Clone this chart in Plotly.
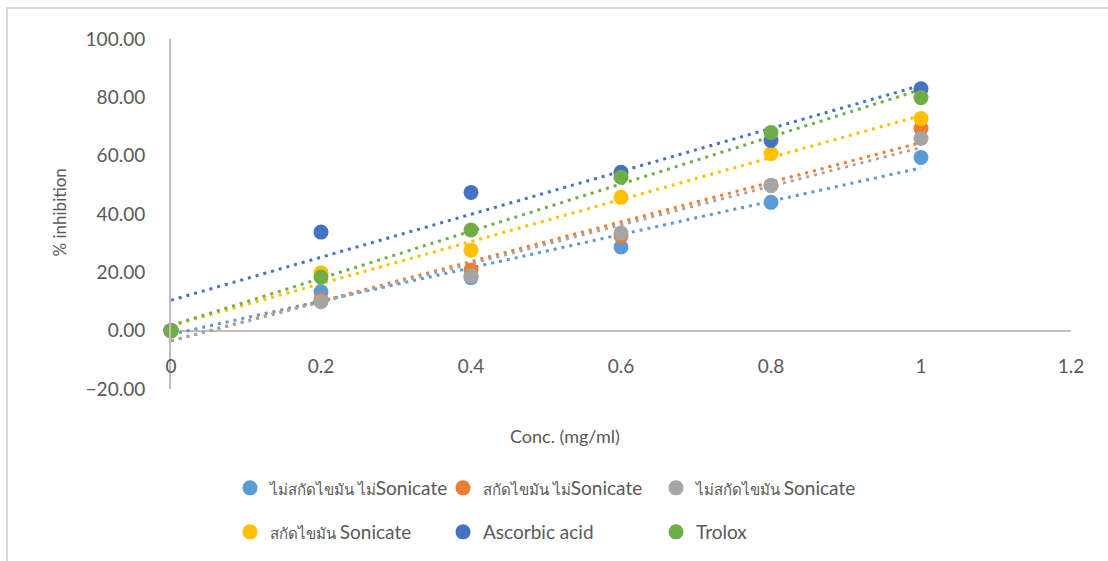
import numpy as np
import plotly.graph_objects as go

conc = [0, 0.2, 0.4, 0.6, 0.8, 1.0]
series_names = ["ไม่สกัดไขมัน ไม่Sonicate", "สกัดไขมัน ไม่Sonicate", "ไม่สกัดไขมัน Sonicate",
                "สกัดไขมัน Sonicate", "Ascorbic acid", "Trolox"]
s1 = [0, 13.3, 18.2, 28.7, 44.0, 59.4]
s2 = [0, 10.6, 20.8, 32.5, 49.8, 69.3]
s3 = [0, 9.9, 18.8, 33.5, 49.8, 65.9]
s4 = [0, 19.8, 27.6, 45.7, 60.7, 72.7]
s5 = [0, 33.8, 47.4, 54.3, 65.2, 82.9]
s6 = [0, 18.4, 34.5, 52.6, 67.9, 79.9]
values = [s1, s2, s3, s4, s5, s6]
colors = ["#5B9BD5", "#ED7D31", "#A5A5A5", "#FFC000", "#4472C4", "#70AD47"]
x_ticks = [0, 0.2, 0.4, 0.6, 0.8, 1, 1.2]
x_tick_text = ["0", "0.2", "0.4", "0.6", "0.8", "1", "1.2"]
y_ticks = [-20, 0, 20, 40, 60, 80, 100]

W, H = 1108, 561
ml, mr, mt, mb = 171, 37, 39, 171
pw, ph = W - ml - mr, H - mt - mb

def px_x(p):
    return (p - ml) / pw

def px_y(p):
    return (H - mb - p) / ph

def legend_label(name):
    # Thai part rendered smaller, Latin part larger (as in the original)
    thai = "".join(ch for ch in name if "\u0e00" <= ch <= "\u0e7f" or ch == " ")
    if not any("\u0e00" <= ch <= "\u0e7f" for ch in name):
        return name
    i = 0
    while i < len(name) and ("\u0e00" <= name[i] <= "\u0e7f" or name[i] == " "):
        i += 1
    return '<span style="font-size:15px">' + name[:i] + "</span>" + name[i:]

fig = go.Figure()
TXT = "#595959"
FONT = "Lato, 'Noto Sans', sans-serif"

# trendlines
for name, ys, c in zip(series_names, values, colors):
    m, b = np.polyfit(conc, ys, 1)
    xs = np.array([min(conc), max(conc)])
    fig.add_trace(go.Scatter(x=xs, y=m * xs + b, mode="lines", showlegend=False,
                             line=dict(color=c, width=3, dash="3px,5px"),
                             hoverinfo="skip", cliponaxis=False))

# markers
for i, (name, ys, c) in enumerate(zip(series_names, values, colors)):
    fig.add_trace(go.Scatter(x=conc, y=ys, mode="markers", name=legend_label(name),
                             marker=dict(color=c, size=15, line=dict(width=0)),
                             cliponaxis=False,
                             legend="legend" if i < 3 else "legend2"))

leg_common = dict(orientation="h", xanchor="left", yanchor="middle",
                  entrywidth=168, entrywidthmode="pixels",
                  font=dict(family=FONT, size=19, color=TXT), bgcolor="rgba(0,0,0,0)",
                  itemwidth=30, tracegroupgap=0)

fig.update_layout(
    width=W, height=H,
    margin=dict(l=ml, r=mr, t=mt, b=mb),
    paper_bgcolor="white", plot_bgcolor="white",
    font=dict(family=FONT, color=TXT),
    xaxis=dict(range=[0, 1.2], tickvals=x_ticks, ticktext=x_tick_text,
               showgrid=False, zeroline=False, showline=False,
               anchor="free", position=1/6,
               tickfont=dict(family=FONT, size=19, color=TXT),
               ticks="", ticklabelstandoff=22),
    yaxis=dict(range=[-20, 100], tickvals=y_ticks, tickformat=".2f",
               showgrid=False, zeroline=True, zerolinecolor="#BFBFBF", zerolinewidth=2,
               showline=True, linecolor="#BFBFBF", linewidth=2,
               tickfont=dict(family=FONT, size=19, color=TXT),
               ticks="", ticklabelstandoff=20),
    legend=dict(x=px_x(230), y=px_y(488), **leg_common),
    legend2=dict(x=px_x(230), y=px_y(532), **leg_common),
    showlegend=True,
)

# axis titles
fig.add_annotation(text="% inhibition", x=px_x(60), y=px_y(213), xref="paper", yref="paper",
                   xanchor="center", yanchor="middle",
                   textangle=-90, showarrow=False, font=dict(family=FONT, size=17, color=TXT))
fig.add_annotation(text="Conc. (mg/ml)", x=px_x(565), y=px_y(437), xref="paper", yref="paper",
                   xanchor="center", yanchor="middle",
                   showarrow=False, font=dict(family=FONT, size=18, color=TXT))

# chart border
fig.add_shape(type="rect", xref="paper", yref="paper",
              x0=px_x(7), x1=px_x(1130), y0=px_y(600), y1=px_y(8),
              line=dict(color="#D9D9D9", width=2), fillcolor="rgba(0,0,0,0)", layer="below")

fig.write_html("out.html")
